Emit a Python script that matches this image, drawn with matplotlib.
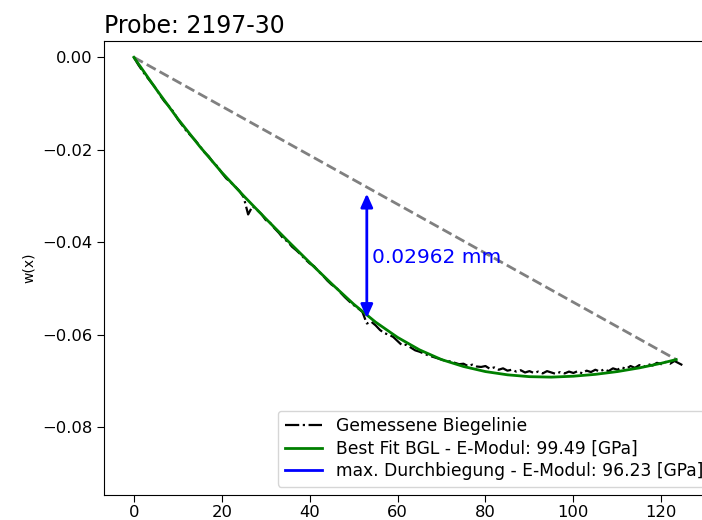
import numpy as np
import matplotlib
matplotlib.use("Agg")
import matplotlib.pyplot as plt

# gemessene Biegelinie (x in mm, w in mm)
x_mess = np.arange(0, 126)
w_mess = np.array([
    0, -16, -30, -43, -55, -67, -83, -96, -106, -118,
    -134, -147, -160, -170, -180, -192, -205, -214, -227, -236,
    -250, -262, -270, -279, -289, -303, -340, -322, -330, -339,
    -352, -358, -370, -380, -392, -399, -410, -418, -427, -437,
    -446, -452, -463, -472, -483, -492, -498, -509, -519, -528,
    -536, -543, -551, -576, -572, -580, -590, -597, -600, -605,
    -614, -623, -622, -628, -634, -637, -641, -645, -648, -651,
    -654, -657, -658, -661, -664, -663, -668, -665, -669, -670,
    -668, -674, -671, -676, -673, -678, -676, -680, -677, -682,
    -679, -683, -680, -684, -679, -682, -685, -681, -684, -680,
    -683, -679, -684, -678, -681, -676, -680, -675, -679, -673,
    -676, -671, -674, -668, -672, -666, -670, -664, -667, -661,
    -664, -659, -663, -657, -662, -667]) * 1e-4

# best fit Biegelinie
x_fit = [0, 5, 10, 15, 20, 25, 30, 35, 40, 45, 50, 55, 60, 65, 70, 75,
         80, 85, 90, 95, 100, 105, 110, 115, 120, 123.4]
w_fit = np.array([0, -68, -133, -193, -249, -300, -349, -397, -444, -490,
                  -534, -573, -606, -633, -654, -669, -680, -687, -691,
                  -692, -690, -686, -680, -672, -662, -654]) * 1e-4

# Sehne zwischen den Auflagern
x_sehne = [0, 123.4]
w_sehne = [0, -0.0654]

# max. Durchbiegung
x_max = 53
w_oben = -0.0280
w_unten = -0.0576
d_max = 0.02962

fig = plt.figure(figsize=(7.02, 5.2), dpi=100)
ax = fig.add_axes([0.1481, 0.0481, 0.9373, 0.8731])

ax.plot(x_sehne, w_sehne, '--', color='gray', lw=2)
ax.plot(x_mess, w_mess, '-.', color='black', lw=1.6, label='Gemessene Biegelinie')
ax.plot(x_fit, w_fit, color='green', lw=2, label='Best Fit BGL - E-Modul: 99.49 [GPa]')
ax.plot([], [], color='blue', lw=2, label='max. Durchbiegung - E-Modul: 96.23 [GPa]')

ax.annotate('', xy=(x_max, w_unten), xytext=(x_max, w_oben),
            arrowprops=dict(arrowstyle='<|-|>,head_length=0.4,head_width=0.18',
                            color='blue', lw=2, mutation_scale=20,
                            shrinkA=5, shrinkB=4))
ax.text(x_max + 1.2, (w_oben + w_unten) / 2 - 0.0005, f'{d_max} mm',
        color='blue', fontsize=14.5, va='center', ha='left')

ax.set_xlim(-6.8, 142.9)
ax.set_ylim(-0.0947, 0.00353)
ax.set_xticks([0, 20, 40, 60, 80, 100, 120])
ax.set_yticks([0, -0.02, -0.04, -0.06, -0.08])
ax.tick_params(labelsize=11.8, length=5)
ax.tick_params(axis='x', pad=2)

ax.set_title('Probe: 2197-30', loc='left', fontsize=17)
ax.set_ylabel('w(x)', fontsize=10)

ax.legend(loc='lower left', bbox_to_anchor=(0.264, 0.018), borderaxespad=0,
          fontsize=12.3, labelspacing=0.25, handlelength=2.2)

fig.savefig('out.png', dpi=100)
